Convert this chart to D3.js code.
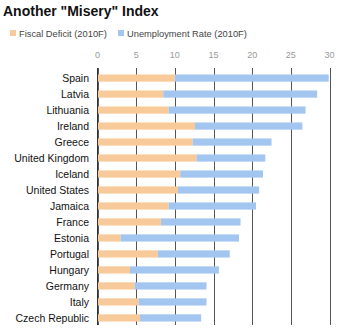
<!DOCTYPE html>
<html>
<head>
<meta charset="utf-8">
<script src="https://cdn.jsdelivr.net/npm/d3@7"></script>
<style>
  body { margin: 0; background: #fff; }
  text { font-family: "Liberation Sans", Arial, sans-serif; }
</style>
</head>
<body>
<div id="chart"></div>
<script>
// chart data
var countries = ["Spain", "Latvia", "Lithuania", "Ireland", "Greece", "United Kingdom",
                 "Iceland", "United States", "Jamaica", "France", "Estonia", "Portugal",
                 "Hungary", "Germany", "Italy", "Czech Republic"];
var fiscalDeficit = [10.0, 8.5, 9.2, 12.6, 12.3, 12.8, 10.7, 10.4, 9.2, 8.2, 3.0, 7.8, 4.2, 4.8, 5.3, 5.5];
var unemployment  = [19.9, 19.9, 17.7, 13.9, 10.2, 8.9, 10.7, 10.5, 11.3, 10.3, 15.3, 9.3, 11.5, 9.3, 8.8, 7.9];
var tickValues = [0, 5, 10, 15, 20, 25, 30];
var seriesNames = ["Fiscal Deficit (2010F)", "Unemployment Rate (2010F)"];
var colors = ["#f9ca99", "#a3c6f1"];

var width = 339, height = 329;

var svg = d3.select("#chart").append("svg")
            .attr("width", width)
            .attr("height", height);

// title
svg.append("text")
   .text('Another "Misery" Index')
   .attr("x", 3)
   .attr("y", 16)
   .style("font-size", "14px")
   .style("font-weight", "bold")
   .style("fill", "#111");

// legend
var legend = svg.selectAll(".legend")
                .data(seriesNames)
                .enter().append("g")
                .attr("transform", function(d, i) { return "translate(" + (i === 0 ? 10 : 118) + ",30)"; });
legend.append("rect")
      .attr("width", 6).attr("height", 6)
      .style("fill", function(d, i) { return colors[i]; });
legend.append("text")
      .text(function(d) { return d; })
      .attr("x", 9).attr("y", 6.5)
      .style("font-size", "9.3px")
      .style("fill", "#444");

// scales
var x = d3.scaleLinear().domain([0, 30]).range([97.5, 329.5]);
var y = d3.scaleBand().domain(countries).range([70, 326]).paddingInner(0.55).paddingOuter(0.28);

// gridlines
svg.append("g").selectAll("line")
   .data(tickValues)
   .enter().append("line")
   .attr("x1", function(d) { return Math.round(x(d)) + 0.5; })
   .attr("x2", function(d) { return Math.round(x(d)) + 0.5; })
   .attr("y1", 68)
   .attr("y2", 325)
   .style("stroke", "#555")
   .style("stroke-width", 1);

// top tick labels
svg.append("g").selectAll("text")
   .data(tickValues)
   .enter().append("text")
   .text(function(d) { return d; })
   .attr("x", function(d) { return x(d); })
   .attr("y", 58)
   .attr("text-anchor", "middle")
   .style("font-size", "9px")
   .style("fill", "#999");

// stacked bars
var rows = countries.map(function(c, i) {
  return { name: c, fiscal: fiscalDeficit[i], unemp: unemployment[i] };
});
var stack = d3.stack().keys(["fiscal", "unemp"])(rows);

svg.append("g").selectAll("g")
   .data(stack)
   .enter().append("g")
   .style("fill", function(d, i) { return colors[i]; })
   .selectAll("rect")
   .data(function(d) { return d; })
   .enter().append("rect")
   .attr("x", function(d) { return x(d[0]); })
   .attr("width", function(d) { return x(d[1]) - x(d[0]); })
   .attr("y", function(d) { return y(d.data.name); })
   .attr("height", y.bandwidth());

// redraw the zero line on top of the bars
svg.append("line")
   .attr("x1", Math.round(x(0)) - 0.5).attr("x2", Math.round(x(0)) - 0.5)
   .attr("y1", 68).attr("y2", 325)
   .style("stroke", "#333");

// category labels
svg.append("g").selectAll("text")
   .data(countries)
   .enter().append("text")
   .text(function(d) { return d; })
   .attr("x", 89)
   .attr("y", function(d) { return y(d) + y.bandwidth() / 2 + 4; })
   .attr("text-anchor", "end")
   .style("font-size", "10.5px")
   .style("fill", "#111");
</script>
</body>
</html>
